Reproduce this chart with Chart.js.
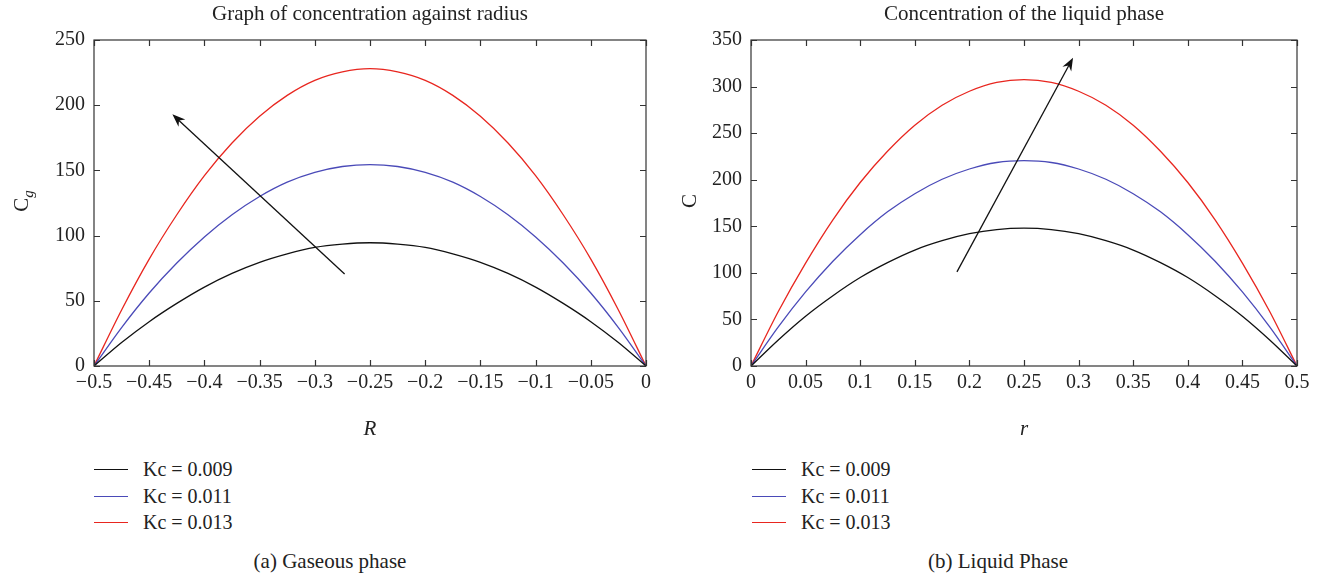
<!DOCTYPE html>
<html>
<head>
<meta charset="utf-8">
<script src="https://cdn.jsdelivr.net/npm/chart.js@4.4.1/dist/chart.umd.min.js"></script>
<style>
  body { margin: 0; background: #fff; }
  #page { position: relative; width: 1331px; height: 576px; font-family: "Liberation Serif", "DejaVu Serif", serif; color: #222; }
  .panel { position: absolute; top: 0; height: 445px; }
  .legend { position: absolute; font-size: 20px; line-height: 26.5px; }
  .legend div { position: relative; padding-left: 49px; white-space: nowrap; }
  .legend span { position: absolute; left: 0; top: 13px; width: 34px; height: 0; border-top: 1.5px solid; }
  .caption { position: absolute; top: 549px; font-size: 21px; white-space: nowrap; transform: translateX(-50%); }
</style>
</head>
<body>
<div id="page">
  <div class="panel" style="left:0;width:665px"><canvas id="gas"></canvas></div>
  <div class="panel" style="left:660px;width:671px"><canvas id="liq"></canvas></div>
  <div class="legend" id="legGas" style="left:94px;top:456px"></div>
  <div class="legend" id="legLiq" style="left:752px;top:456px"></div>
  <div class="caption" style="left:330px">(a) Gaseous phase</div>
  <div class="caption" style="left:998px">(b) Liquid Phase</div>
</div>
<script>
// series labels and colours
const seriesNames = [ 'Kc = 0.009', 'Kc = 0.011', 'Kc = 0.013' ];
const seriesColors = [ '#111111', '#4a4ab8', '#e8261f' ];

// (a) gaseous phase, R from -0.5 to 0
const radiusR = [ -0.5, -0.475, -0.45, -0.425, -0.4, -0.375, -0.35, -0.325, -0.3, -0.275, -0.25,
	-0.225, -0.2, -0.175, -0.15, -0.125, -0.1, -0.075, -0.05, -0.025, 0 ];
const gasKc009 = [ 0, 18, 34, 48, 60.5, 71, 79.5, 86, 91, 93.5, 94.5, 93.5, 91, 86, 79.5, 71, 60.5, 48, 34, 18, 0 ];
const gasKc011 = [ 0, 29.5, 56, 79, 99, 116, 130, 141, 148.5, 153, 154.5, 153, 148.5, 141, 130, 116, 99, 79, 56, 29.5, 0 ];
const gasKc013 = [ 0, 43, 82, 116, 146, 171, 191.5, 207.5, 219, 225.5, 228, 225.5, 219, 207.5, 191.5, 171, 146, 116, 82, 43, 0 ];
const gasXTicks = [ -0.5, -0.45, -0.4, -0.35, -0.3, -0.25, -0.2, -0.15, -0.1, -0.05, 0 ];
const gasXLabels = [ '\u22120.5', '\u22120.45', '\u22120.4', '\u22120.35', '\u22120.3', '\u22120.25', '\u22120.2', '\u22120.15', '\u22120.1', '\u22120.05', '0' ];
const gasYTicks = [ 0, 50, 100, 150, 200, 250 ];
const gasArrow = [ [ -0.273, 70.5 ], [ -0.429, 193 ] ];

// (b) liquid phase, r from 0 to 0.5
const radiusr = [ 0, 0.025, 0.05, 0.075, 0.1, 0.125, 0.15, 0.175, 0.2, 0.225, 0.25,
	0.275, 0.3, 0.325, 0.35, 0.375, 0.4, 0.425, 0.45, 0.475, 0.5 ];
const liqKc009 = [ 0, 28, 53.5, 75.5, 95, 111, 124.5, 134.5, 142, 146.5, 148, 146.5, 142, 134.5, 124.5, 111, 95, 75.5, 53.5, 28, 0 ];
const liqKc011 = [ 0, 42, 79.5, 112.5, 141, 165.5, 185, 200.5, 211.5, 218.5, 220.5, 218.5, 211.5, 200.5, 185, 165.5, 141, 112.5, 79.5, 42, 0 ];
const liqKc013 = [ 0, 58.5, 110.5, 157, 197, 230.5, 258.5, 280, 295, 304.5, 307.5, 304.5, 295, 280, 258.5, 230.5, 197, 157, 110.5, 58.5, 0 ];
const liqXTicks = [ 0, 0.05, 0.1, 0.15, 0.2, 0.25, 0.3, 0.35, 0.4, 0.45, 0.5 ];
const liqXLabels = [ '0', '0.05', '0.1', '0.15', '0.2', '0.25', '0.3', '0.35', '0.4', '0.45', '0.5' ];
const liqYTicks = [ 0, 50, 100, 150, 200, 250, 300, 350 ];
const liqArrow = [ [ 0.1886, 101 ], [ 0.2949, 331 ] ];

const FONT = '"Liberation Serif", "DejaVu Serif", serif';
const INK = '#222';

// box around the plot with inward ticks on all four sides
const boxTicks = {
	id: 'boxTicks',
	afterDraw( chart ) {
		const { ctx, chartArea: a, scales: { x, y } } = chart;
		ctx.save();
		ctx.strokeStyle = '#333';
		ctx.lineWidth = 1.2;
		ctx.strokeRect( a.left, a.top, a.right - a.left, a.bottom - a.top );
		ctx.beginPath();
		x.ticks.forEach( t => {
			const px = Math.round( x.getPixelForValue( t.value ) ) + 0.5;
			ctx.moveTo( px, a.bottom ); ctx.lineTo( px, a.bottom - 6 );
			ctx.moveTo( px, a.top ); ctx.lineTo( px, a.top + 6 );
		} );
		y.ticks.forEach( t => {
			const py = Math.round( y.getPixelForValue( t.value ) ) + 0.5;
			ctx.moveTo( a.left, py ); ctx.lineTo( a.left + 6, py );
			ctx.moveTo( a.right, py ); ctx.lineTo( a.right - 6, py );
		} );
		ctx.stroke();
		ctx.restore();
	}
};

// arrow across the curves, given in data units
const arrowPlugin = {
	id: 'arrow',
	afterDatasetsDraw( chart, args, opts ) {
		const { ctx, scales: { x, y } } = chart;
		const x0 = x.getPixelForValue( opts.from[ 0 ] ), y0 = y.getPixelForValue( opts.from[ 1 ] );
		const x1 = x.getPixelForValue( opts.to[ 0 ] ), y1 = y.getPixelForValue( opts.to[ 1 ] );
		const ang = Math.atan2( y1 - y0, x1 - x0 );
		ctx.save();
		ctx.strokeStyle = '#111';
		ctx.fillStyle = '#111';
		ctx.lineWidth = 1.3;
		ctx.beginPath();
		ctx.moveTo( x0, y0 );
		ctx.lineTo( x1 - 6 * Math.cos( ang ), y1 - 6 * Math.sin( ang ) );
		ctx.stroke();
		ctx.translate( x1, y1 );
		ctx.rotate( ang );
		ctx.beginPath();
		ctx.moveTo( 0, 0 );
		ctx.lineTo( -13, -5 );
		ctx.lineTo( -9, 0 );
		ctx.lineTo( -13, 5 );
		ctx.closePath();
		ctx.fill();
		ctx.restore();
	}
};

// rotated y title, with an optional subscript
const yTitle = {
	id: 'yTitle',
	afterDraw( chart, args, opts ) {
		const { ctx, chartArea: a } = chart;
		ctx.save();
		ctx.translate( opts.x, ( a.top + a.bottom ) / 2 - 2 );
		ctx.rotate( -Math.PI / 2 );
		ctx.fillStyle = INK;
		ctx.textBaseline = 'middle';
		ctx.font = '21px ' + FONT;
		const w = ctx.measureText( opts.text ).width;
		const ws = opts.sub ? ( ctx.font = '15px ' + FONT, ctx.measureText( opts.sub ).width ) : 0;
		const start = -( w + ws ) / 2;
		ctx.font = '21px ' + FONT;
		ctx.fillText( opts.text, start, 0 );
		if ( opts.sub ) {
			ctx.font = 'italic 15px ' + FONT;
			ctx.fillText( opts.sub, start + w, 7 );
		}
		ctx.restore();
	}
};

function makeChart( id, xs, series, xTicks, xLabels, yTicks, yMax, xTitle, yText, ySub, yTitleX, arrow, yWidth, padRight ) {
	new Chart( document.getElementById( id ), {
		type: 'line',
		data: {
			datasets: series.map( ( vals, i ) => ( {
				label: seriesNames[ i ],
				data: vals.map( ( v, j ) => ( { x: xs[ j ], y: v } ) ),
				borderColor: seriesColors[ i ],
				borderWidth: 1.3,
				pointRadius: 0,
				cubicInterpolationMode: 'monotone',
				fill: false
			} ) )
		},
		options: {
			responsive: true,
			maintainAspectRatio: false,
			animation: false,
			events: [],
			layout: { padding: { left: 0, right: padRight, top: 0, bottom: 0 } },
			plugins: {
				legend: { display: false },
				tooltip: { enabled: false },
				title: {
					display: true,
					fullSize: false,
					text: id === 'gas' ? 'Graph of concentration against radius' : 'Concentration of the liquid phase',
					color: INK,
					font: { family: FONT, size: 21, weight: 'normal' },
					padding: { top: 1.5, bottom: 13.3 }
				},
				arrow: { from: arrow[ 0 ], to: arrow[ 1 ] },
				yTitle: { text: yText, sub: ySub, x: yTitleX }
			},
			scales: {
				x: {
					type: 'linear',
					min: xTicks[ 0 ],
					max: xTicks[ xTicks.length - 1 ],
					afterBuildTicks: s => { s.ticks = xTicks.map( v => ( { value: v } ) ); },
					afterFit: s => { s.height = 79; },
					grid: { display: false, drawTicks: false },
					border: { display: false },
					ticks: {
						color: INK,
						padding: 5,
						maxRotation: 0,
						autoSkip: false,
						font: { family: FONT, size: 20 },
						callback: ( v, i ) => xLabels[ i ]
					},
					title: {
						display: true,
						text: xTitle,
						color: INK,
						font: { family: FONT, size: 21, style: 'italic' },
						padding: { top: 0, bottom: 3 }
					}
				},
				y: {
					min: 0,
					max: yMax,
					afterBuildTicks: s => { s.ticks = yTicks.map( v => ( { value: v } ) ); },
					afterFit: s => { s.width = yWidth; },
					grid: { display: false, drawTicks: false },
					border: { display: false },
					ticks: {
						color: INK,
						padding: 9,
						font: { family: FONT, size: 20 }
					}
				}
			}
		},
		plugins: [ boxTicks, arrowPlugin, yTitle ]
	} );
}

makeChart( 'gas', radiusR, [ gasKc009, gasKc011, gasKc013 ], gasXTicks, gasXLabels, gasYTicks, 250,
	'R', 'C', 'g', 22, gasArrow, 94, 19 );
makeChart( 'liq', radiusr, [ liqKc009, liqKc011, liqKc013 ], liqXTicks, liqXLabels, liqYTicks, 350,
	'r', 'C', '', 30, liqArrow, 91, 34 );

// legends under each panel
[ 'legGas', 'legLiq' ].forEach( id => {
	const box = document.getElementById( id );
	seriesNames.forEach( ( name, i ) => {
		const row = document.createElement( 'div' );
		const line = document.createElement( 'span' );
		line.style.borderColor = seriesColors[ i ];
		row.appendChild( line );
		row.appendChild( document.createTextNode( name ) );
		box.appendChild( row );
	} );
} );
</script>
</body>
</html>
